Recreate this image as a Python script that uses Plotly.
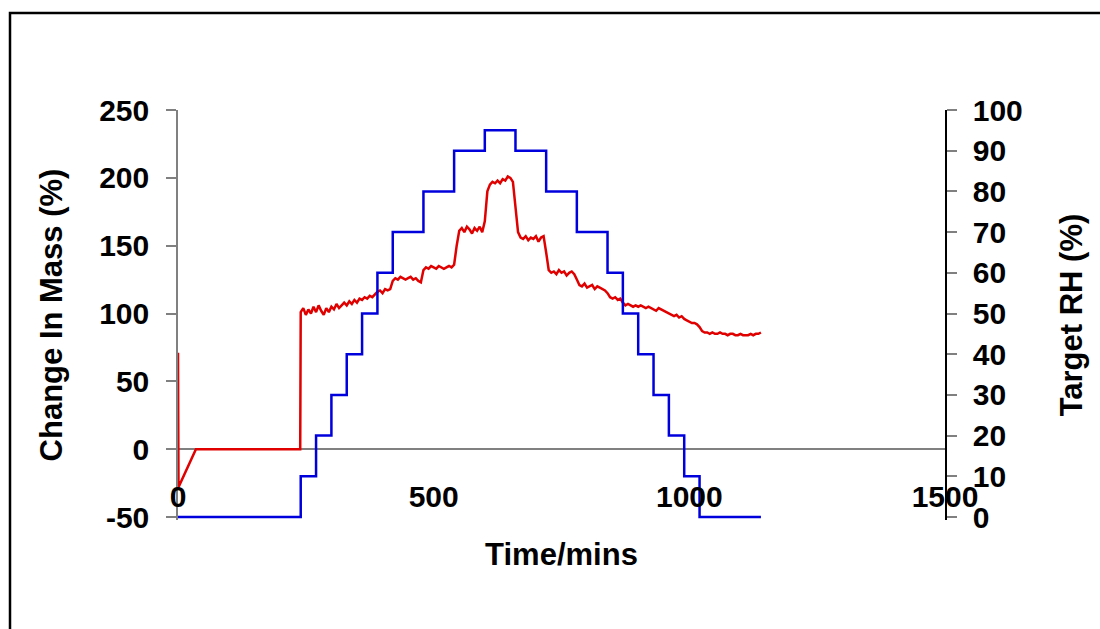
import plotly.graph_objects as go

# ---------------- data ----------------
# Target RH step profile (value holds from each time until the next)
rh_time = [0, 240, 270, 300, 330, 360, 390, 420, 480, 540, 600, 660, 720, 780,
           840, 870, 900, 930, 960, 990, 1020, 1140]
rh_value = [0, 10, 20, 30, 40, 50, 60, 70, 80, 90, 95, 90, 80, 70,
            60, 50, 40, 30, 20, 10, 0, 0]

# Change in mass: start-up segment
mass_time_start = [0, 1, 35, 239]
mass_value_start = [71, -28, 0, 0]

# Change in mass sampled every 5 min from 240 to 1140 min
m_240 = [101, 104, 99, 103, 100, 105]
m_270 = [101, 106, 102, 99, 104, 101]
m_300 = [105, 103, 107, 104, 106, 108]
m_330 = [106, 109, 107, 110, 108, 111]
m_360 = [110, 112, 111, 113, 112, 114]
m_390 = [116, 117, 115, 118, 117, 118]
m_420 = [124, 126, 125, 127, 126, 125, 126, 127, 125, 126, 124, 123]
m_480 = [132, 134, 133, 135, 134, 133, 135, 134, 133, 134, 135, 134]
m_540 = [136, 150, 161, 163, 160, 164, 162, 159, 163, 161, 164, 160]
m_600 = [168, 190, 195, 197, 196, 198, 196, 199, 198, 201, 200, 197]
m_660 = [180, 160, 156, 155, 157, 154, 156, 155, 157, 153, 156, 157]
m_720 = [145, 132, 130, 131, 129, 132, 130, 131, 128, 130, 131, 129]
m_780 = [125, 121, 120, 122, 119, 120, 121, 118, 120, 119, 118, 117]
m_840 = [115, 112, 111, 112, 110, 111]
m_870 = [108, 106, 107, 106, 105, 106, 105, 106, 105, 104, 105, 104]
m_930 = [103, 102, 104, 103, 102, 101]
m_960 = [100, 99, 98, 99, 97, 98, 96, 95, 94, 93, 93, 92]
m_1020 = [90, 87, 86, 86, 85, 86, 85, 85, 86, 85, 85, 84, 85, 85, 84, 84,
          85, 84, 84, 84, 85, 84, 85, 85, 86]

mass_sampled = (m_240 + m_270 + m_300 + m_330 + m_360 + m_390 + m_420 + m_480 +
                m_540 + m_600 + m_660 + m_720 + m_780 + m_840 + m_870 + m_930 +
                m_960 + m_1020)
mass_sampled_time = list(range(240, 1141, 5))
assert len(mass_sampled) == len(mass_sampled_time)

mass_time = mass_time_start + mass_sampled_time
mass_value = mass_value_start + mass_sampled

x_ticks = [0, 500, 1000, 1500]
y_ticks = [-50, 0, 50, 100, 150, 200, 250]
y2_ticks = [0, 10, 20, 30, 40, 50, 60, 70, 80, 90, 100]

# ---------------- figure ----------------
FONT = "Liberation Sans, Arial, sans-serif"

# a few pixels of padding under the lowest tick so the 0 % RH line is not clipped
PAD_PX = 3
PLOT_H = 407 + PAD_PX
y_lo = -50 - PAD_PX * 300 / 407
y2_lo = 0 - PAD_PX * 100 / 407

fig = go.Figure()

fig.add_trace(go.Scatter(
    x=mass_time, y=mass_value, mode="lines", yaxis="y",
    line=dict(color="#E00000", width=2.5), name="Change In Mass",
))
fig.add_trace(go.Scatter(
    x=rh_time, y=rh_value, mode="lines", yaxis="y2", line_shape="hv",
    line=dict(color="#0000DD", width=2.5), name="Target RH",
))

tickfont = dict(family=FONT, size=30, color="black", weight="bold")
titlefont = dict(family=FONT, size=31, color="black", weight="bold")

fig.update_layout(
    width=1100, height=629,
    margin=dict(l=178, r=155, t=110, b=112 - PAD_PX),
    paper_bgcolor="white", plot_bgcolor="white",
    showlegend=False,
    xaxis=dict(
        range=[0, 1500], tickvals=x_ticks, ticktext=[str(v) for v in x_ticks],
        showgrid=False, zeroline=False, showline=False, ticks="",
        anchor="free", position=(PAD_PX + 40.7) / PLOT_H,
        tickfont=tickfont,
        title=dict(text="Time/mins", font=titlefont, standoff=31),
    ),
    yaxis=dict(
        range=[y_lo, 250], tickvals=y_ticks, ticktext=[str(v) for v in y_ticks],
        showgrid=False,
        zeroline=True, zerolinecolor="#808080", zerolinewidth=1.5,
        showline=True, linecolor="#808080", linewidth=1.5,
        ticks="outside", ticklen=10, tickcolor="#808080", tickwidth=1.5,
        ticklabelstandoff=11,
        tickfont=tickfont,
        title=dict(text="Change In Mass (%)", font=titlefont, standoff=27),
    ),
    yaxis2=dict(
        range=[y2_lo, 100], tickvals=y2_ticks, ticktext=[str(v) for v in y2_ticks],
        overlaying="y", side="right", anchor="x",
        showgrid=False, zeroline=False,
        showline=True, linecolor="black", linewidth=1.5,
        ticks="outside", ticklen=10, tickcolor="#808080", tickwidth=1.5,
        ticklabelstandoff=10,
        tickfont=tickfont,
        title=dict(text="Target RH (%)", font=titlefont, standoff=38),
    ),
    shapes=[dict(
        type="rect", xref="paper", yref="paper",
        x0=(10 - 178) / 767, x1=(1110 - 178) / 767,
        y0=(520 - 640) / PLOT_H, y1=(520 - 13) / PLOT_H,
        line=dict(color="black", width=2.5), fillcolor="rgba(0,0,0,0)",
        layer="above",
    )],
)

fig.write_html("out.html")
